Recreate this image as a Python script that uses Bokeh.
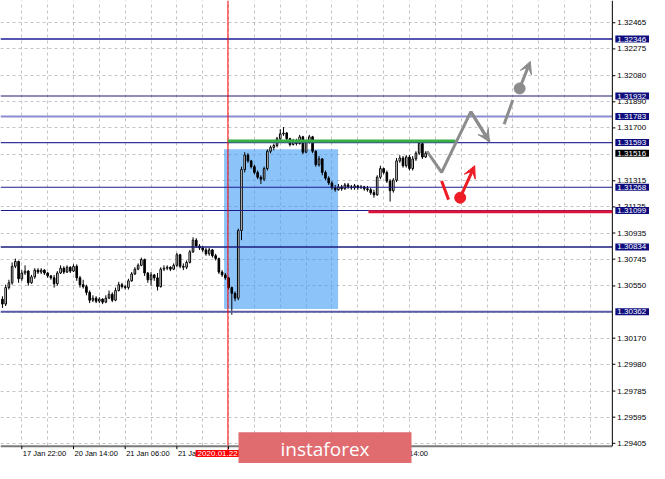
from bokeh.plotting import figure
from bokeh.models import Range1d, FixedTicker, Label, Arrow, VeeHead, ColumnDataSource
from bokeh.core.properties import value
from bokeh.embed import file_html
from bokeh.resources import INLINE

# ---------------- data (GBP/USD H1) ----------------
first_open = 1.30454
close = [1.30418, 1.30538, 1.30573, 1.30693, 1.30728, 1.30602, 1.30644, 1.30658, 1.30573, 1.30616,
         1.30665, 1.30651, 1.30665, 1.30644, 1.30623, 1.30609, 1.30566, 1.30644, 1.30679, 1.30651,
         1.30686, 1.30658, 1.30693, 1.30609, 1.30559, 1.30545, 1.30503, 1.30446, 1.30461, 1.30439,
         1.30454, 1.30432, 1.30461, 1.30489, 1.30446, 1.30517, 1.30559, 1.30545, 1.30538, 1.30587,
         1.30637, 1.30672, 1.30700, 1.30742, 1.30644, 1.30595, 1.30630, 1.30609, 1.30545, 1.30672,
         1.30679, 1.30686, 1.30672, 1.30700, 1.30777, 1.30693, 1.30686, 1.30721, 1.30798, 1.30883,
         1.30840, 1.30826, 1.30812, 1.30784, 1.30812, 1.30770, 1.30749, 1.30651, 1.30630, 1.30609,
         1.30538, 1.30496, 1.30461, 1.30953, 1.31397, 1.31502, 1.31460, 1.31418, 1.31376, 1.31341,
         1.31327, 1.31404, 1.31530, 1.31558, 1.31572, 1.31621, 1.31656, 1.31663, 1.31621, 1.31579,
         1.31600, 1.31586, 1.31635, 1.31523, 1.31600, 1.31635, 1.31530, 1.31432, 1.31474, 1.31376,
         1.31334, 1.31299, 1.31264, 1.31250, 1.31271, 1.31257, 1.31285, 1.31271, 1.31264, 1.31278,
         1.31264, 1.31271, 1.31257, 1.31250, 1.31229, 1.31213, 1.31341, 1.31404, 1.31376, 1.31313,
         1.31243, 1.31320, 1.31460, 1.31481, 1.31425, 1.31488, 1.31404, 1.31474, 1.31516, 1.31586,
         1.31488, 1.31516]
high = [1.30475, 1.30559, 1.30595, 1.30721, 1.30749, 1.30735, 1.30665, 1.30700, 1.30665, 1.30630,
        1.30679, 1.30679, 1.30679, 1.30672, 1.30651, 1.30630, 1.30630, 1.30658, 1.30700, 1.30693,
        1.30700, 1.30693, 1.30707, 1.30707, 1.30623, 1.30595, 1.30559, 1.30517, 1.30482, 1.30475,
        1.30468, 1.30461, 1.30482, 1.30517, 1.30503, 1.30538, 1.30580, 1.30573, 1.30559, 1.30602,
        1.30651, 1.30686, 1.30714, 1.30756, 1.30749, 1.30651, 1.30651, 1.30637, 1.30644, 1.30686,
        1.30700, 1.30700, 1.30693, 1.30714, 1.30791, 1.30784, 1.30714, 1.30735, 1.30812, 1.30904,
        1.30897, 1.30854, 1.30840, 1.30826, 1.30826, 1.30819, 1.30784, 1.30756, 1.30665, 1.30644,
        1.30616, 1.30545, 1.30510, 1.30967, 1.31418, 1.31523, 1.31516, 1.31467, 1.31432, 1.31390,
        1.31355, 1.31418, 1.31544, 1.31572, 1.31586, 1.31635, 1.31691, 1.31706, 1.31670, 1.31628,
        1.31621, 1.31621, 1.31649, 1.31642, 1.31614, 1.31649, 1.31642, 1.31537, 1.31495, 1.31481,
        1.31390, 1.31348, 1.31313, 1.31285, 1.31292, 1.31285, 1.31299, 1.31299, 1.31285, 1.31292,
        1.31285, 1.31285, 1.31278, 1.31278, 1.31264, 1.31250, 1.31355, 1.31425, 1.31411, 1.31390,
        1.31327, 1.31334, 1.31481, 1.31502, 1.31495, 1.31502, 1.31502, 1.31495, 1.31530, 1.31607,
        1.31607, 1.31530]
low = [1.30390, 1.30404, 1.30524, 1.30559, 1.30679, 1.30573, 1.30587, 1.30630, 1.30552, 1.30566,
       1.30602, 1.30637, 1.30637, 1.30630, 1.30609, 1.30595, 1.30538, 1.30552, 1.30637, 1.30637,
       1.30644, 1.30644, 1.30651, 1.30587, 1.30538, 1.30531, 1.30482, 1.30425, 1.30432, 1.30425,
       1.30425, 1.30418, 1.30425, 1.30454, 1.30432, 1.30439, 1.30510, 1.30531, 1.30524, 1.30524,
       1.30580, 1.30630, 1.30665, 1.30693, 1.30623, 1.30573, 1.30552, 1.30587, 1.30517, 1.30538,
       1.30658, 1.30665, 1.30658, 1.30665, 1.30686, 1.30679, 1.30665, 1.30672, 1.30714, 1.30791,
       1.30826, 1.30812, 1.30798, 1.30770, 1.30770, 1.30756, 1.30735, 1.30637, 1.30616, 1.30595,
       1.30524, 1.30341, 1.30439, 1.30446, 1.30883, 1.31376, 1.31446, 1.31404, 1.31362, 1.31327,
       1.31292, 1.31313, 1.31390, 1.31516, 1.31537, 1.31558, 1.31607, 1.31642, 1.31607, 1.31565,
       1.31572, 1.31572, 1.31579, 1.31509, 1.31516, 1.31586, 1.31516, 1.31418, 1.31418, 1.31355,
       1.31320, 1.31285, 1.31250, 1.31236, 1.31243, 1.31243, 1.31250, 1.31257, 1.31250, 1.31250,
       1.31250, 1.31257, 1.31243, 1.31236, 1.31213, 1.31192, 1.31206, 1.31327, 1.31362, 1.31299,
       1.31164, 1.31229, 1.31306, 1.31446, 1.31411, 1.31411, 1.31390, 1.31390, 1.31460, 1.31502,
       1.31474, 1.31481]

grid_prices = [1.32465, 1.32275, 1.32080, 1.31890, 1.31700, 1.31505, 1.31315, 1.31125, 1.30935,
               1.30745, 1.30550, 1.30360, 1.30170, 1.29980, 1.29785, 1.29595, 1.29405]
axis_prices = [1.32465, 1.32275, 1.32080, 1.31890, 1.31700, 1.31315, 1.31125, 1.30935,
               1.30745, 1.30550, 1.30170, 1.29980, 1.29785, 1.29595, 1.29405]
level_prices = [1.32346, 1.31932, 1.31783, 1.31593, 1.31268, 1.31099, 1.30834, 1.30362]
level_colors = ["#5656b2", "#1c1c72", "#8c8cd0", "#34349c", "#1c1c8c", "#1c1c8c", "#1c1c7c", "#5a5aa8"]
level_widths = [2, 1.2, 2, 1.2, 1.2, 1.2, 1.5, 2]
last_price = 1.31516

time_ticks = [6, 22, 38, 54, 70, 86, 102, 118]
time_labels = ["17 Jan 22:00", "20 Jan 14:00", "21 Jan 06:00", "21 Jan 22:00", "24 Jan 14:00"]
time_label_bars = [6, 22, 38, 54, 118]
marker_bar = 69.8
marker_text = "2020.01.22"

zone_x = [68.6, 103.9]
zone_y = [1.30383, 1.31544]
green_x = [69.8, 140.2]
green_y = [1.31604, 1.31604]
red_x = [113.3, 188.8]
red_y = [1.31090, 1.31090]

path_x = [131.4, 135.95, 145.0, 150.75]
path_y = [1.31530, 1.31376, 1.31818, 1.31600]
dash_x = [155.3, 158.0]
dash_y = [1.31727, 1.31903]
target_x = [160.1, 163.4]
target_y = [1.31987, 1.32184]
alt_x = [135.95, 138.1]
alt_y = [1.31313, 1.31178]
alt_target_x = [141.7, 146.2]
alt_target_y = [1.31192, 1.31425]

# ---------------- layout ----------------
W, H = 649, 463
X0, X1 = -0.6, 200.3            # bar range over the whole canvas
Y0, Y1 = 1.29258, 1.32627       # price range over the whole canvas
AXIS_X = 188.8                  # bar position of the price-scale line
AXIS_Y = 1.29384                # price of the time-scale line
TIME_Y = 1.29330                # centre line of the time labels
FONT = "Liberation Sans"

p = figure(width=W, height=H, output_backend="svg", toolbar_location=None,
           x_range=Range1d(X0, X1), y_range=Range1d(Y0, Y1),
           x_axis_location=None, y_axis_location=None,
           min_border_left=0, min_border_top=0, min_border_right=0, min_border_bottom=0)
p.outline_line_color = None
p.background_fill_color = "white"
p.border_fill_color = "white"

# grids
p.xgrid.ticker = FixedTicker(ticks=list(range(-2, 190, 8)))
p.ygrid.ticker = FixedTicker(ticks=grid_prices)
for g in (p.xgrid, p.ygrid):
    g.grid_line_color = "#c4c4c4"
    g.grid_line_dash = "3 3"
    g.grid_line_width = 1

# zone rectangle
p.quad(left=[zone_x[0]], right=[zone_x[1]], bottom=[zone_y[0]], top=[zone_y[1]],
       fill_color="#3f9df7", fill_alpha=0.6, line_color=None)

# candles
n = len(close)
opens = [first_open] + close[:-1]
src = ColumnDataSource(dict(
    x=list(range(n)), o=opens, c=close, h=high, l=low,
    top=[max(a, b) for a, b in zip(opens, close)],
    bot=[min(a, b) for a, b in zip(opens, close)],
    fill=["white" if c >= o else "black" for o, c in zip(opens, close)],
))
p.segment(x0="x", y0="l", x1="x", y1="h", source=src, line_color="black", line_width=1)
p.vbar(x="x", top="top", bottom="bot", width=0.5, source=src,
       fill_color="fill", line_color="black", line_width=1)

# horizontal levels (up to the price scale)
lv_src = ColumnDataSource(dict(x0=[X0] * len(level_prices), x1=[AXIS_X] * len(level_prices),
                               y=level_prices, c=level_colors, w=level_widths))
p.segment(x0="x0", y0="y", x1="x1", y1="y", source=lv_src, line_color="c", line_width="w")

# white scale areas
p.quad(left=[AXIS_X], right=[X1], bottom=[Y0], top=[Y1], fill_color="white", line_color=None)
p.quad(left=[X0], right=[AXIS_X], bottom=[Y0], top=[AXIS_Y], fill_color="white", line_color=None)

# vertical red marker
p.segment(x0=[marker_bar], y0=[TIME_Y], x1=[marker_bar], y1=[Y1], line_color="#ff0000", line_width=1)

# scale lines
p.segment(x0=[X0], y0=[AXIS_Y], x1=[AXIS_X], y1=[AXIS_Y], line_color="#7a7a7a", line_width=2)
p.segment(x0=[AXIS_X], y0=[AXIS_Y], x1=[AXIS_X], y1=[Y1], line_color="black", line_width=1)

# price tick marks and labels
p.ray(x=[AXIS_X] * len(axis_prices), y=axis_prices, length=3, length_units="screen",
      angle=0, line_color="black", line_width=1)
p.text(x=[AXIS_X] * len(axis_prices), y=axis_prices, text=[f"{v:.5f}" for v in axis_prices],
       x_offset=5, text_font=value(FONT), text_font_size="8px", text_color="black",
       text_align="left", text_baseline="middle")

# time tick marks and labels
p.ray(x=time_ticks, y=[AXIS_Y] * len(time_ticks), length=3, length_units="screen",
      angle=-1.5708, line_color="black", line_width=1)
p.text(x=time_label_bars, y=[TIME_Y] * len(time_label_bars), text=time_labels,
       x_offset=1, text_font=value(FONT), text_font_size="7.5px", text_color="black",
       text_align="left", text_baseline="middle")

# green and red horizontal segments
p.line(green_x, green_y, line_color="#36b043", line_width=3, level="overlay")
p.line(red_x, red_y, line_color="#dc143c", line_width=3, level="overlay")

# forecast paths
GREY = "#8c8c8c"
RED = "#ee1c24"
p.line(path_x, path_y, line_color=GREY, line_width=3, level="overlay")
p.add_layout(Arrow(end=VeeHead(size=12, fill_color=GREY, line_color=GREY),
                   x_start=path_x[-2], y_start=path_y[-2], x_end=path_x[-1], y_end=path_y[-1],
                   line_color=GREY, line_width=3, level="overlay"))
p.line(dash_x, dash_y, line_color=GREY, line_width=3, level="overlay")
p.scatter([target_x[0]], [target_y[0]], size=11, fill_color=GREY, line_color=GREY, level="overlay")
p.add_layout(Arrow(end=VeeHead(size=12, fill_color=GREY, line_color=GREY),
                   x_start=target_x[0], y_start=target_y[0], x_end=target_x[1], y_end=target_y[1],
                   line_color=GREY, line_width=3, level="overlay"))
p.line(alt_x, alt_y, line_color=RED, line_width=3, level="overlay")
p.scatter([alt_target_x[0]], [alt_target_y[0]], size=11, fill_color=RED, line_color=RED, level="overlay")
p.add_layout(Arrow(end=VeeHead(size=12, fill_color=RED, line_color=RED),
                   x_start=alt_target_x[0], y_start=alt_target_y[0],
                   x_end=alt_target_x[1], y_end=alt_target_y[1],
                   line_color=RED, line_width=3, level="overlay"))

# price boxes on the scale
for lv in level_prices:
    p.add_layout(Label(x=AXIS_X, y=lv, x_offset=3, text=f"{lv:.5f}",
                       text_font=FONT, text_font_size="8px", text_color="white",
                       text_baseline="middle", text_align="left",
                       background_fill_color="#0d0d7d",
                       padding=dict(left=2, right=4, top=1, bottom=1)))
p.add_layout(Label(x=AXIS_X, y=last_price, x_offset=3, text=f"{last_price:.5f}",
                   text_font=FONT, text_font_size="8px", text_color="white",
                   text_baseline="middle", text_align="left",
                   background_fill_color="black",
                   padding=dict(left=2, right=4, top=1, bottom=1)))

# marker date box on the time scale
p.add_layout(Label(x=59.8, y=TIME_Y, text=marker_text,
                   text_font=FONT, text_font_size="8px", text_color="white",
                   text_baseline="middle", text_align="left",
                   background_fill_color="#ff0000",
                   padding=dict(left=2, right=2, top=1, bottom=1)))

# banner
p.add_layout(Label(x=99.85, y=1.29340, text="instaforex",
                   text_font="Open Sans", text_font_size="19px", text_color="white",
                   text_baseline="middle", text_align="center",
                   background_fill_color="#e06c70",
                   padding=dict(left=42, right=42, top=4, bottom=10)))

open("out.html", "w").write(file_html(p, INLINE))
